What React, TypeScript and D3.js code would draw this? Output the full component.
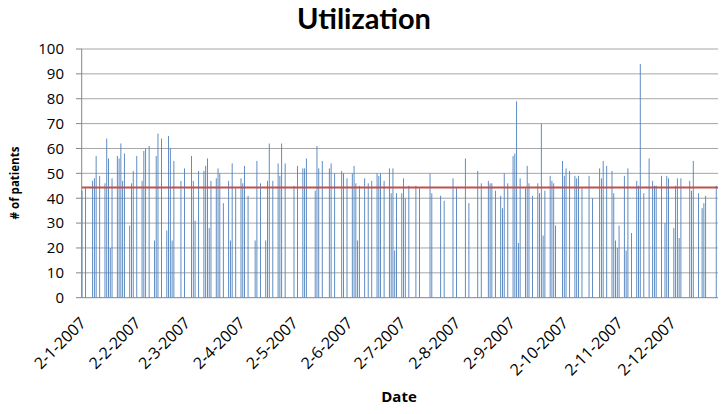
import React from 'react';
import * as d3 from 'd3';

const chartTitle = 'Utilization';
const yAxisTitle = '# of patients';
const xAxisTitle = 'Date';
const yTickValues = [0, 10, 20, 30, 40, 50, 60, 70, 80, 90, 100];
const xTickLabels = ['2-1-2007', '2-2-2007', '2-3-2007', '2-4-2007', '2-5-2007', '2-6-2007', '2-7-2007', '2-8-2007', '2-9-2007', '2-10-2007', '2-11-2007', '2-12-2007'];
const averageLine = 44.3;
const axisStart = '2-1-2007';
const axisEnd = '28-12-2007';

// [day of month, # of patients]
const jan: [number, number][] = [[2, 43], [4, 44], [8, 47], [9, 48], [10, 57], [12, 49], [15, 46], [16, 64], [17, 56], [18, 20], [19, 48], [22, 57], [23, 56], [24, 62], [25, 47], [26, 58], [29, 29], [30, 46], [31, 51]];
const feb: [number, number][] = [[2, 57], [5, 47], [6, 59], [7, 60], [9, 61], [12, 23], [13, 57], [14, 66], [16, 64], [19, 27], [20, 65], [21, 60], [22, 23], [23, 55], [27, 47]];
const mar: [number, number][] = [[1, 52], [5, 57], [6, 47], [7, 31], [9, 51], [12, 51], [13, 53], [14, 56], [15, 28], [16, 47], [19, 48], [20, 52], [21, 50], [23, 38], [26, 47], [27, 23], [28, 54], [30, 44]];
const apr: [number, number][] = [[2, 48], [3, 46], [4, 53], [6, 41], [10, 23], [11, 55], [13, 46], [16, 23], [17, 47], [18, 62], [20, 47], [23, 54], [24, 49], [25, 62], [27, 54]];
const may: [number, number][] = [[2, 45], [4, 53], [7, 52], [8, 52], [9, 56], [14, 43], [15, 61], [16, 52], [18, 55], [22, 52], [23, 54], [25, 50], [29, 51], [30, 50]];
const jun: [number, number][] = [[1, 48], [4, 50], [5, 53], [6, 46], [7, 23], [8, 45], [11, 48], [13, 46], [15, 47], [18, 50], [19, 49], [20, 50], [22, 47], [25, 52], [26, 42], [27, 52], [28, 19], [29, 42]];
const jul: [number, number][] = [[2, 42], [3, 48], [4, 40], [6, 45], [10, 45], [12, 44], [18, 50], [19, 42], [24, 41], [26, 39], [31, 48]];
const aug: [number, number][] = [[2, 44], [7, 56], [9, 38], [14, 51], [16, 46], [20, 47], [21, 46], [22, 46], [24, 43], [27, 41], [28, 36], [29, 50], [31, 46]];
const sep: [number, number][] = [[3, 57], [4, 58], [5, 79], [6, 22], [7, 48], [10, 44], [11, 53], [12, 46], [14, 41], [17, 46], [18, 42], [19, 70], [20, 25], [21, 43], [24, 49], [25, 47], [26, 46], [27, 29]];
const oct: [number, number][] = [[1, 55], [2, 49], [3, 52], [5, 51], [8, 49], [9, 48], [10, 49], [12, 44], [16, 49], [18, 40], [22, 52], [23, 48], [24, 55], [26, 53], [29, 51], [30, 42], [31, 23]];
const nov: [number, number][] = [[1, 20], [2, 29], [5, 49], [6, 19], [7, 52], [9, 26], [12, 47], [13, 45], [14, 94], [16, 42], [19, 56], [21, 47], [22, 45], [23, 45], [26, 49], [28, 30], [29, 49], [30, 48]];
const dec: [number, number][] = [[3, 28], [4, 45], [5, 48], [6, 24], [7, 48], [12, 47], [13, 43], [14, 55], [17, 42], [19, 36], [20, 38], [21, 41], [27, 45]];

const months = [jan, feb, mar, apr, may, jun, jul, aug, sep, oct, nov, dec];

const parseDate = d3.utcParse('%d-%m-%Y');

const rows = months.flatMap((m, mi) =>
  m.map(([day, value]) => ({ date: new Date(Date.UTC(2007, mi, day)), value }))
);

export default function App() {
  const W = 726;
  const H = 414;
  const left = 82;
  const right = 718;
  const top = 49;
  const bottom = 297.7;

  const x = d3.scaleUtc().domain([parseDate(axisStart)!, parseDate(axisEnd)!]).range([left, right]);
  const y = d3.scaleLinear().domain([0, 100]).range([bottom, top]);

  const font = "'Open Sans', 'DejaVu Sans', sans-serif";

  return (
    <svg width={W} height={H} style={{ position: 'absolute', left: 0, top: 0, background: '#fff' }} fontFamily={font}>
      <rect x={0} y={0} width={W} height={H} fill="#fff" />
      <text x={364} y={29} textAnchor="middle" fontSize={29} fontWeight="bold" fill="#000" fontFamily="Lato, 'Open Sans', sans-serif">{chartTitle}</text>

      {yTickValues.filter((v) => v > 0).map((v) => (
        <line key={'g' + v} x1={left} x2={right} y1={y(v)} y2={y(v)} stroke="#a6a6a6" strokeWidth={1} />
      ))}

      {rows.map((r, i) => (
        <rect key={i} x={x(r.date) - 0.45} width={0.9} y={y(r.value)} height={bottom - y(r.value)} fill="#4f81bd" />
      ))}

      <line x1={left} x2={right} y1={y(averageLine)} y2={y(averageLine)} stroke="#c0504d" strokeWidth={2} />

      <line x1={left - 0.3} x2={left - 0.3} y1={top} y2={bottom} stroke="#868686" strokeWidth={1} />
      <line x1={left} x2={right} y1={bottom} y2={bottom} stroke="#868686" strokeWidth={1} />
      {yTickValues.map((v) => (
        <g key={'t' + v}>
          <line x1={left - 6} x2={left} y1={y(v)} y2={y(v)} stroke="#868686" strokeWidth={1} />
          <text x={64} y={y(v)} dy="0.36em" textAnchor="end" fontSize={15} fill="#000">{v}</text>
        </g>
      ))}

      {xTickLabels.map((lab) => {
        const px = x(parseDate(lab)!);
        return (
          <text key={lab} transform={`translate(${px + 5},324) rotate(-45)`} textAnchor="end" fontSize={16} fill="#000">{lab}</text>
        );
      })}

      <text x={399} y={402} textAnchor="middle" fontSize={15} fontWeight="bold" fill="#000">{xAxisTitle}</text>
      <text transform={`translate(19,183) rotate(-90)`} textAnchor="middle" fontSize={11.5} fontWeight="bold" fill="#000">{yAxisTitle}</text>
    </svg>
  );
}
